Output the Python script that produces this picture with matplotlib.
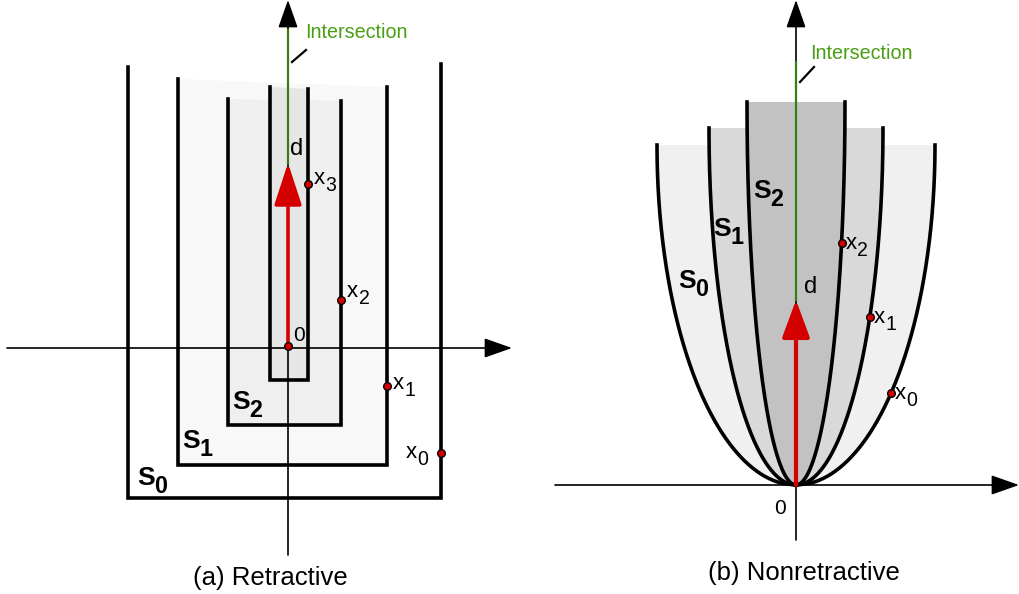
import numpy as np
import matplotlib
matplotlib.use("Agg")
from matplotlib import pyplot as plt
from matplotlib.patches import Polygon

plt.rcParams['font.family'] = ['Liberation Sans', 'DejaVu Sans']

# ---- panel (a): nested U-shaped sets, origin at the axis crossing ----
# left, right, bottom, top at left edge, top at right edge
a_names = ['S0', 'S1', 'S2', 'S3']
a_left = [-160, -110, -60, -18]
a_right = [153, 99, 53, 20]
a_bottom = [-150, -117, -77, -32]
a_top_l = [281, 269, 249, 261]
a_top_r = [284, 261, 247, 259]
a_fill = ['#ffffff', '#f8f8f8', '#efefef', '#e6e6e6']

a_pts_x = [153, 99, 53, 20]
a_pts_y = [-105, -38, 48, 164]
a_pts_lab = ['0', '1', '2', '3']
a_d = 185          # tip of red arrow d
a_inter = 318      # top of green intersection segment

# ---- panel (b): nested half-ellipse sets, vertex at the origin ----
b_half_w = [139, 87, 49]
b_height = [340, 357, 383]
b_fill = ['#f0f0f0', '#d9d9d9', '#c2c2c2']
b_pts_set = [0, 1, 2]
b_pts_h = [92, 168, 242]
b_d = 185
b_inter = 423

FS_LAB = 16
FS_SET = 19
FS_CAP = 18.5
LW_SET = 2.6

fig = plt.figure(figsize=(10.19, 5.94), dpi=100)

# pixel-scaled axes so that the aspect is 1:1
ax1 = fig.add_axes([0, 0, 520 / 1019, 1])
ax1.set_xlim(-288, 232)
ax1.set_ylim(-246, 348)
ax2 = fig.add_axes([540 / 1019, 0, 479 / 1019, 1])
ax2.set_xlim(-256, 223)
ax2.set_ylim(-109, 485)
for ax in (ax1, ax2):
    ax.axis('off')


def arrow_axis(ax, x0, y0, x1, y1, hl=24, hw=17):
    ax.annotate('', xy=(x1, y1), xytext=(x0, y0),
                arrowprops=dict(arrowstyle='-|>,head_length=%.2f,head_width=%.2f' % (hl / 13.9, hw / 27.8),
                                mutation_scale=10, color='black', lw=1.2,
                                shrinkA=0, shrinkB=0), zorder=2)


def sub_text(ax, x, y, main, sub, size, bold=False, color='black'):
    w = 'bold' if bold else 'normal'
    ax.text(x, y, main, fontsize=size, fontweight=w, ha='left', va='baseline', color=color, zorder=6)
    dx = size * (0.66 if bold else 0.52)
    ax.annotate(sub, xy=(x, y), xytext=(dx, -size * 0.3), textcoords='offset points',
                fontsize=size * 0.88, fontweight=w, ha='left', va='baseline', color=color, zorder=6)


def red_dot(ax, x, y):
    ax.plot(x, y, 'o', ms=5.5, mfc='#d40000', mec='black', mew=1.0, zorder=7)


# ---------------- panel (a) ----------------
for i in range(len(a_names)):
    L, R, B = a_left[i], a_right[i], a_bottom[i]
    ax1.add_patch(Polygon([(L, a_top_l[i]), (L, B), (R, B), (R, a_top_r[i])],
                          closed=True, fc=a_fill[i], ec='none', zorder=1))
for i in range(len(a_names)):
    L, R, B = a_left[i], a_right[i], a_bottom[i]
    ax1.plot([L, L, R, R], [a_top_l[i], B, B, a_top_r[i]], color='black', lw=LW_SET,
             solid_joinstyle='miter', zorder=3)

arrow_axis(ax1, -281, 0, 224, 0)
arrow_axis(ax1, 0, -207, 0, 348)
ax1.plot([0, 0], [a_d, a_inter], color='#3a7d10', lw=1.6, zorder=4)
ax1.annotate('', xy=(0, a_d), xytext=(0, 0),
             arrowprops=dict(arrowstyle='-|>,head_length=2.6,head_width=0.85', mutation_scale=10,
                             color='#d40000', lw=2.6, shrinkA=0, shrinkB=0), zorder=5)
red_dot(ax1, 0, 2)
ax1.text(5, 3, '0', fontsize=FS_LAB - 1, ha='left', va='bottom', zorder=6)
ax1.text(2, a_d + 8, 'd', fontsize=FS_LAB + 1, ha='left', va='baseline', zorder=6)

for i in range(len(a_pts_x)):
    red_dot(ax1, a_pts_x[i], a_pts_y[i])
lab_off = [(-35, -5), (6, -3), (6, 3), (6, 0)]
for i in range(len(a_pts_x)):
    sub_text(ax1, a_pts_x[i] + lab_off[i][0], a_pts_y[i] + lab_off[i][1], 'x', a_pts_lab[i], FS_LAB)

set_pos_a = [(-151, -137), (-106, -100), (-56, -61)]
for i, (x, y) in enumerate(set_pos_a):
    sub_text(ax1, x, y, 'S', str(i), FS_SET, bold=True)

ax1.text(17, 310, 'Intersection', fontsize=14.2, color='#4a9e12', ha='left', va='baseline')
ax1.plot([4, 18], [286, 298], color='black', lw=1.6)
ax1.text(-18, -237, '(a) Retractive', fontsize=FS_CAP, ha='center', va='baseline')

# ---------------- panel (b) ----------------
def ellipse_x(a, b, h):
    h = np.asarray(h, dtype=float)
    return a * np.sqrt(np.clip(1 - ((b - h) / b) ** 2, 0, None))


for i in range(len(b_half_w)):
    h = np.linspace(0, b_height[i], 300)
    xr = ellipse_x(b_half_w[i], b_height[i], h)
    xs = np.concatenate([-xr[::-1], xr])
    ys = np.concatenate([h[::-1], h])
    ax2.fill(xs, ys, fc=b_fill[i], ec='none', zorder=1 + i * 0.1)
for i in range(len(b_half_w)):
    h = np.linspace(0, b_height[i], 300)
    xr = ellipse_x(b_half_w[i], b_height[i], h)
    ax2.plot(xr, h, color='black', lw=LW_SET, zorder=3)
    ax2.plot(-xr, h, color='black', lw=LW_SET, zorder=3)

arrow_axis(ax2, -241, 0, 223, 0)
arrow_axis(ax2, 0, -55, 0, 485)
ax2.plot([0, 0], [b_d, b_inter], color='#3a7d10', lw=1.6, zorder=4)
ax2.annotate('', xy=(0, b_d), xytext=(0, 0),
             arrowprops=dict(arrowstyle='-|>,head_length=2.3,head_width=0.85', mutation_scale=10,
                             color='#d40000', lw=3.0, shrinkA=0, shrinkB=0), zorder=5)
ax2.text(8, b_d + 7, 'd', fontsize=FS_LAB + 1, ha='left', va='baseline', zorder=6)
ax2.text(-22, -29, '0', fontsize=FS_LAB - 1, ha='left', va='baseline', zorder=6)

for i in range(len(b_pts_h)):
    k = b_pts_set[i]
    px = float(ellipse_x(b_half_w[k], b_height[k], b_pts_h[i]))
    red_dot(ax2, px, b_pts_h[i])
    sub_text(ax2, px + 4, b_pts_h[i] - 6, 'x', str(i), FS_LAB)

set_pos_b = [(-118, 197), (-83, 249), (-43, 287)]
for i, (x, y) in enumerate(set_pos_b):
    sub_text(ax2, x, y, 'S', str(i), FS_SET, bold=True)

ax2.text(14, 426, 'Intersection', fontsize=14.2, color='#4a9e12', ha='left', va='baseline')
ax2.plot([4, 18], [403, 418], color='black', lw=1.6)
ax2.text(8, -95, '(b) Nonretractive', fontsize=FS_CAP, ha='center', va='baseline')

fig.savefig('out.png', dpi=100)
